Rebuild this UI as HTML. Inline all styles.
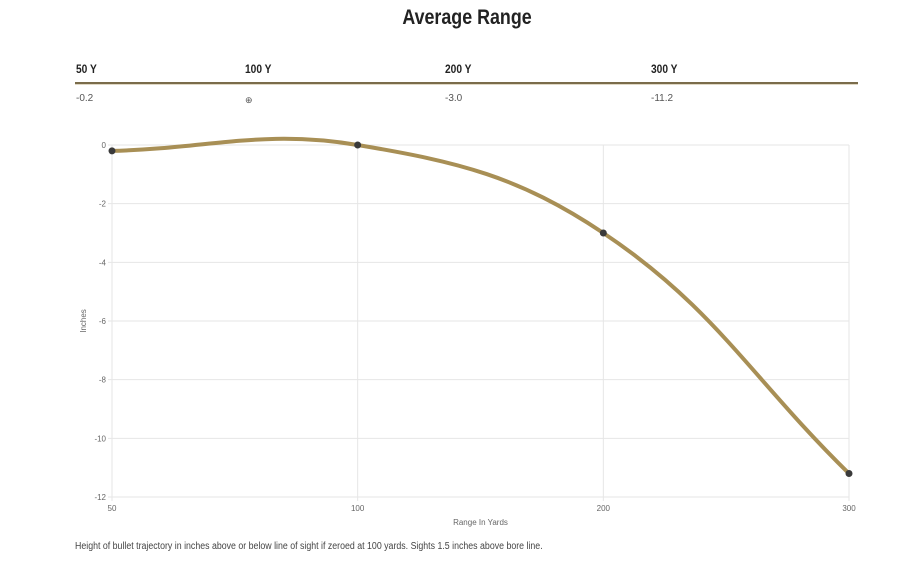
<!DOCTYPE html>
<html><head><meta charset="utf-8"><style>
body{margin:0;width:900px;height:587px;background:#fff;font-family:"Liberation Sans Narrow","Liberation Sans",sans-serif;overflow:hidden;position:relative}
.t{position:absolute;white-space:nowrap}
#title{left:0;width:934px;text-align:center;top:6px;font-size:21px;font-weight:bold;color:#222;transform:scaleX(.85);transform-origin:467px 0}
.h{top:62px;font-size:12px;font-weight:bold;color:#222;transform:scaleX(.85);transform-origin:0 0}
.v{top:93px;font-size:10px;color:#555}
#rule{position:absolute;left:75px;top:82px;width:783px;height:2px;background:#7a6c4b}
#rule2{position:absolute;left:75px;top:84px;width:783px;height:1px;background:#e0d8c4}
#note{left:75px;top:541px;font-size:10px;color:#444;transform:scaleX(.88);transform-origin:0 0}
</style></head><body>
<div class="t" id="title">Average Range</div>
<div class="t h" style="left:76px">50 Y</div>
<div class="t h" style="left:245px">100 Y</div>
<div class="t h" style="left:445px">200 Y</div>
<div class="t h" style="left:651px">300 Y</div>
<div id="rule"></div>
<div id="rule2"></div>
<div class="t v" style="left:76px">-0.2</div>
<div class="t v" style="left:245px;font-size:9px;top:95px">⊕</div>
<div class="t v" style="left:445px">-3.0</div>
<div class="t v" style="left:651px">-11.2</div>
<svg id="chart" width="900" height="587" style="position:absolute;left:0;top:0"></svg>
<div class="t" id="note">Height of bullet trajectory in inches above or below line of sight if zeroed at 100 yards. Sights 1.5 inches above bore line.</div>
<script>
const categories=["50","100","200","300"];
const values=[-0.2,0,-3.0,-11.2];
const yTicks=[0,-2,-4,-6,-8,-10,-12];
const NS="http://www.w3.org/2000/svg";
const svg=document.getElementById('chart');
const L=112,R=849,T=145,B=497;
function xs(i){return L+i*(R-L)/(categories.length-1);}
function ys(v){return T+(0-v)*(B-T)/12;}
function mk(tag,attrs){const e=document.createElementNS(NS,tag);for(const k in attrs)e.setAttribute(k,attrs[k]);svg.appendChild(e);return e;}
yTicks.forEach(v=>{
  const g=mk('line',{x1:L-4,x2:R,y1:ys(v),y2:ys(v),stroke:'#e6e6e6','stroke-width':1});
  
  
  const t=mk('text',{x:L-6,y:ys(v)+3,'text-anchor':'end','font-size':8,fill:'#666','font-family':'Liberation Sans Narrow, Liberation Sans, sans-serif'});
  t.textContent=v;
  
  
});
categories.forEach((c,i)=>{
  const g=mk('line',{x1:xs(i),x2:xs(i),y1:T,y2:B+4,stroke:'#e6e6e6','stroke-width':1});
  
  
  const t=mk('text',{x:xs(i),y:B+14,'text-anchor':'middle','font-size':8,fill:'#666','font-family':'Liberation Sans Narrow, Liberation Sans, sans-serif'});
  t.textContent=c;
  
  
});
const xt=mk('text',{x:(L+R)/2,y:B+28,'text-anchor':'middle','font-size':8,fill:'#666','font-family':'Liberation Sans Narrow, Liberation Sans, sans-serif'});
xt.textContent='Range In Yards';


const yt=mk('text',{x:0,y:0,'text-anchor':'middle','font-size':8,fill:'#666',transform:`translate(86,${(T+B)/2}) rotate(-90)`,'font-family':'Liberation Sans Narrow, Liberation Sans, sans-serif'});
yt.textContent='Inches';


const pts=values.map((v,i)=>[xs(i),ys(v)]);
const tension=0.4;
let d=`M${pts[0][0]},${pts[0][1]}`;
const cp=pts.map((p,i)=>{
  const prev=pts[i-1]||p,next=pts[i+1]||p;
  const d01=Math.hypot(p[0]-prev[0],p[1]-prev[1]),d12=Math.hypot(next[0]-p[0],next[1]-p[1]);
  const s=d01+d12||1;const fa=tension*d01/s,fb=tension*d12/s;
  return {p:[p[0]-fa*(next[0]-prev[0]),p[1]-fa*(next[1]-prev[1])],n:[p[0]+fb*(next[0]-prev[0]),p[1]+fb*(next[1]-prev[1])]};
});
for(let i=1;i<pts.length;i++){d+=` C${cp[i-1].n[0]},${cp[i-1].n[1]} ${cp[i].p[0]},${cp[i].p[1]} ${pts[i][0]},${pts[i][1]}`;}
const line=mk('path',{d:d,fill:'none',stroke:'#a88f55','stroke-width':4,'stroke-linecap':'round'});


pts.forEach(p=>{
  const c=mk('circle',{cx:p[0],cy:p[1],r:3.5,fill:'#3a3a3a'});
  
  
});
</script>
</body></html>
